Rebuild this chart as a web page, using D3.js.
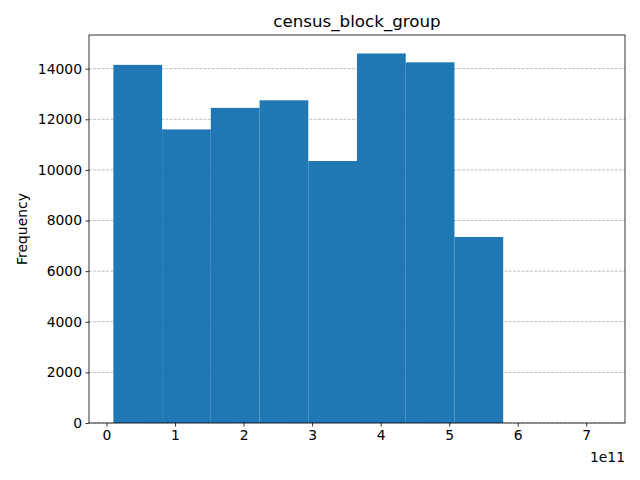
<!DOCTYPE html>
<html><head><meta charset="utf-8">
<script src="https://cdn.jsdelivr.net/npm/d3@7"></script>
<style>body{margin:0;background:#fff}</style></head>
<body><svg id="c" width="640" height="480"></svg>
<script>
const binStart = 0.1, binEnd = 7.21;
const counts = [14150, 11600, 12450, 12750, 10350, 14600, 14250, 7350, 0, 0];
const xTicks = [0,1,2,3,4,5,6,7];
const yTicks = [0,2000,4000,6000,8000,10000,12000,14000];
const svg = d3.select("#c");
const L=89,R=625,T=35,B=423;
const x = d3.scaleLinear().domain([binStart-(binEnd-binStart)*0.05, binEnd+(binEnd-binStart)*0.05]).range([L,R]);
const y = d3.scaleLinear().domain([0, d3.max(counts)*1.05]).range([B,T]);
const w=(binEnd-binStart)/counts.length;
const font="DejaVu Sans";
svg.append("g").selectAll("line").data(yTicks).join("line")
 .attr("x1",L).attr("x2",R).attr("y1",d=>y(d)).attr("y2",d=>y(d))
 .attr("stroke","#b0b0b0").attr("stroke-width",0.8).attr("stroke-dasharray","2.96,1.28");
svg.append("g").selectAll("rect").data(counts).join("rect")
 .attr("x",(d,i)=>x(binStart+i*w)).attr("width",(d,i)=>x(binStart+(i+1)*w)-x(binStart+i*w))
 .attr("y",d=>y(d)).attr("height",d=>B-y(d)).attr("fill","#1f77b4");
const gx=svg.append("g").attr("transform",`translate(0,${B})`).call(d3.axisBottom(x).tickValues(xTicks).tickFormat(d3.format("d")).tickSizeOuter(0).tickSize(3.5).tickPadding(3.5));
const gy=svg.append("g").attr("transform",`translate(${L},0)`).call(d3.axisLeft(y).tickValues(yTicks).tickFormat(d=>d).tickSizeOuter(0).tickSize(3.5).tickPadding(3.5));
[gx,gy].forEach(g=>{g.selectAll("text").attr("font-family",font).attr("font-size",13.9).attr("fill","#000");g.select(".domain").remove();g.selectAll("line").attr("stroke","#000").attr("stroke-width",0.8);});
svg.append("rect").attr("x",L).attr("y",T).attr("width",R-L).attr("height",B-T).attr("fill","none").attr("stroke","#000").attr("stroke-width",0.8);
svg.append("text").attr("x",(L+R)/2).attr("y",27).attr("text-anchor","middle").attr("font-family",font).attr("font-size",16.7).text("census_block_group");
svg.append("text").attr("transform",`translate(27,${(T+B)/2}) rotate(-90)`).attr("text-anchor","middle").attr("font-family",font).attr("font-size",13.9).text("Frequency");
svg.append("text").attr("x",R).attr("y",462).attr("text-anchor","end").attr("font-family",font).attr("font-size",13.9).text("1e11");
</script></body></html>
